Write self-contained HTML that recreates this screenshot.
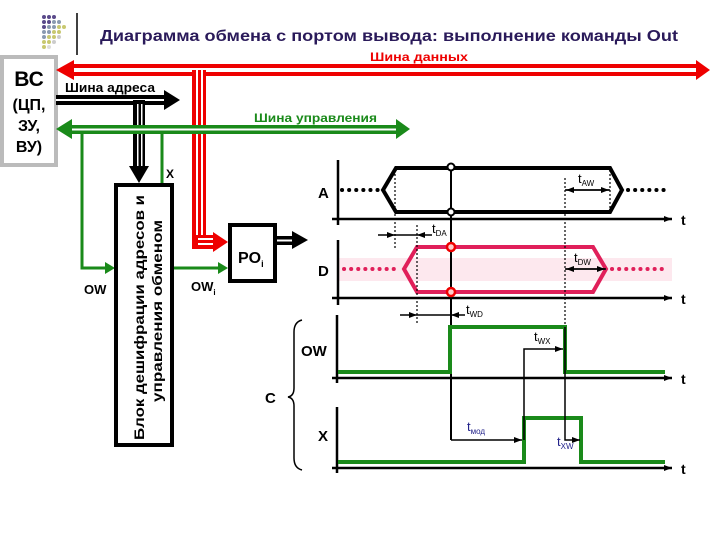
<!DOCTYPE html>
<html><head><meta charset="utf-8"><style>
body{margin:0;background:#fff;}
svg{display:block;font-family:"Liberation Sans","DejaVu Sans",sans-serif;font-weight:bold;}
</style></head><body>
<svg width="720" height="540" viewBox="0 0 720 540" xmlns="http://www.w3.org/2000/svg">
<defs>
<marker id="ab" markerWidth="8" markerHeight="6" refX="8" refY="3" orient="auto" markerUnits="userSpaceOnUse"><path d="M0,0L8,3L0,6z" fill="#000"/></marker>
</defs>
<!-- logo -->
<g>
<circle cx="44" cy="17" r="2" fill="#5a4a8a"/><circle cx="49" cy="17" r="2" fill="#5a4a8a"/><circle cx="54" cy="17" r="2" fill="#5a4a8a"/>
<circle cx="44" cy="22" r="2" fill="#5a4a8a"/><circle cx="49" cy="22" r="2" fill="#5a4a8a"/><circle cx="54" cy="22" r="2" fill="#8a9ab0"/><circle cx="59" cy="22" r="2" fill="#8a9ab0"/>
<circle cx="44" cy="27" r="2" fill="#5a4a8a"/><circle cx="49" cy="27" r="2" fill="#8a9ab0"/><circle cx="54" cy="27" r="2" fill="#8a9ab0"/><circle cx="59" cy="27" r="2" fill="#c8c870"/><circle cx="64" cy="27" r="2" fill="#c8c870"/>
<circle cx="44" cy="32" r="2" fill="#8a9ab0"/><circle cx="49" cy="32" r="2" fill="#8a9ab0"/><circle cx="54" cy="32" r="2" fill="#c8c870"/><circle cx="59" cy="32" r="2" fill="#c8c870"/>
<circle cx="44" cy="37" r="2" fill="#8a9ab0"/><circle cx="49" cy="37" r="2" fill="#c8c870"/><circle cx="54" cy="37" r="2" fill="#c8c870"/><circle cx="59" cy="37" r="2" fill="#ccc"/>
<circle cx="44" cy="42" r="2" fill="#c8c870"/><circle cx="49" cy="42" r="2" fill="#c8c870"/><circle cx="54" cy="42" r="2" fill="#ccc"/>
<circle cx="44" cy="47" r="2" fill="#c8c870"/><circle cx="49" cy="47" r="2" fill="#ddd"/>
</g>
<line x1="77" y1="13" x2="77" y2="55" stroke="#000" stroke-width="1.5"/>
<text x="100" y="41" font-size="16" fill="#2a1a5a" textLength="578" lengthAdjust="spacingAndGlyphs">Диаграмма обмена с портом вывода: выполнение команды Out</text>

<!-- BC box -->
<rect x="2" y="57" width="54" height="108" fill="#fff" stroke="#bbb" stroke-width="4"/>
<text x="29" y="86" font-size="21" text-anchor="middle">ВС</text>
<text x="29" y="110" font-size="16" text-anchor="middle">(ЦП,</text>
<text x="29" y="131" font-size="16" text-anchor="middle">ЗУ,</text>
<text x="29" y="152" font-size="16" text-anchor="middle">ВУ)</text>

<!-- red data bus -->
<rect x="72" y="64" width="628" height="12" fill="#e00"/>
<rect x="72" y="68" width="628" height="4" fill="#fff"/>
<path d="M56,70 L74,60 L74,80z" fill="#e00"/>
<path d="M710,70 L696,60 L696,80z" fill="#e00"/>
<text x="370" y="61" font-size="12" fill="#e00" textLength="98" lengthAdjust="spacingAndGlyphs">Шина данных</text>
<rect x="192" y="70" width="14" height="178" fill="#e00"/>
<rect x="196" y="70" width="2" height="174" fill="#fff"/><rect x="201" y="70" width="2" height="174" fill="#fff"/>
<rect x="192" y="235" width="24" height="14" fill="#e00"/>
<rect x="198" y="238" width="18" height="2" fill="#fff"/><rect x="198" y="243" width="18" height="2" fill="#fff"/>
<path d="M228,242 L213,232 L213,252z" fill="#e00"/>

<!-- address bus -->
<rect x="56" y="95" width="110" height="10" fill="#000"/>
<rect x="56" y="99" width="110" height="2" fill="#fff"/>
<path d="M180,100 L164,90 L164,110z" fill="#000"/>
<text x="65" y="92" font-size="13" textLength="90" lengthAdjust="spacingAndGlyphs">Шина адреса</text>
<rect x="133" y="100" width="12" height="70" fill="#000"/>
<rect x="137" y="104" width="1.5" height="66" fill="#fff"/><rect x="141" y="104" width="1.5" height="66" fill="#fff"/>
<path d="M139,183 L129,166 L149,166z" fill="#000"/>

<!-- control bus -->
<rect x="70" y="125" width="328" height="9" fill="#1a8a1a"/>
<rect x="70" y="128.5" width="328" height="2" fill="#fff"/>
<path d="M56,129 L72,119 L72,139z" fill="#1a8a1a"/>
<path d="M410,129 L396,119 L396,139z" fill="#1a8a1a"/>
<text x="254" y="122" font-size="12" fill="#1a8a1a" textLength="123" lengthAdjust="spacingAndGlyphs">Шина управления</text>
<polyline points="82,134 82,268 108,268" fill="none" stroke="#1a8a1a" stroke-width="3"/>
<path d="M115,268 L105,262 L105,274z" fill="#1a8a1a"/>
<line x1="162" y1="134" x2="162" y2="183" stroke="#1a8a1a" stroke-width="3"/>
<text x="166" y="178" font-size="12">X</text>
<line x1="174" y1="268" x2="222" y2="268" stroke="#1a8a1a" stroke-width="3"/>
<path d="M228,268 L218,262 L218,274z" fill="#1a8a1a"/>
<text x="84" y="294" font-size="13">OW</text>
<text x="191" y="291" font-size="13">OW<tspan font-size="8" dy="4">i</tspan></text>

<!-- block -->
<rect x="116" y="185" width="56" height="260" fill="#fff" stroke="#000" stroke-width="4"/>
<g transform="translate(144,440) rotate(-90)"><text x="0" y="0" font-size="14" textLength="245" lengthAdjust="spacingAndGlyphs">Блок дешифрации адресов и</text></g>
<g transform="translate(162,402) rotate(-90)"><text x="0" y="0" font-size="14" textLength="182" lengthAdjust="spacingAndGlyphs">управления обменом</text></g>

<!-- PO -->
<rect x="230" y="225" width="45" height="56" fill="#fff" stroke="#000" stroke-width="4"/>
<text x="238" y="263" font-size="16">PO<tspan font-size="9" dy="4">i</tspan></text>
<rect x="277" y="236" width="18" height="9" fill="#000"/><rect x="277" y="239.5" width="18" height="2" fill="#fff"/>
<path d="M308,240 L292,231 L292,249z" fill="#000"/>

<!-- timing A -->
<line x1="338" y1="160" x2="338" y2="225" stroke="#000" stroke-width="2.5"/>
<line x1="332" y1="219" x2="672" y2="219" stroke="#000" stroke-width="2.5" marker-end="url(#ab)"/>
<text x="681" y="225" font-size="14">t</text>
<text x="318" y="198" font-size="15">A</text>
<line x1="342" y1="190" x2="378" y2="190" stroke="#000" stroke-width="4" stroke-dasharray="0.1 7" stroke-linecap="round"/>
<line x1="628" y1="190" x2="665" y2="190" stroke="#000" stroke-width="4" stroke-dasharray="0.1 7" stroke-linecap="round"/>
<polygon points="383,190 396,168 610,168 622,190 610,212 396,212" fill="none" stroke="#000" stroke-width="4"/>

<!-- D -->
<rect x="338" y="258" width="334" height="23" fill="#fde8ee"/>
<line x1="338" y1="240" x2="338" y2="305" stroke="#000" stroke-width="2.5"/>
<line x1="332" y1="298" x2="672" y2="298" stroke="#000" stroke-width="2.5" marker-end="url(#ab)"/>
<text x="681" y="304" font-size="14">t</text>
<text x="318" y="276" font-size="15">D</text>
<line x1="344" y1="269" x2="400" y2="269" stroke="#e0205a" stroke-width="4" stroke-dasharray="0.1 7" stroke-linecap="round"/>
<line x1="612" y1="269" x2="668" y2="269" stroke="#e0205a" stroke-width="4" stroke-dasharray="0.1 7" stroke-linecap="round"/>
<polygon points="404,269 417,247 593,247 606,269 593,292 417,292" fill="none" stroke="#e0205a" stroke-width="4"/>

<!-- dotted refs -->
<g stroke="#000" stroke-width="1.2" stroke-dasharray="2 2">
<line x1="395" y1="170" x2="395" y2="248"/>
<line x1="417" y1="225" x2="417" y2="325"/>
<line x1="565" y1="178" x2="565" y2="328"/>
<line x1="610" y1="170" x2="610" y2="212"/>
</g>
<line x1="451" y1="167" x2="451" y2="440" stroke="#000" stroke-width="2"/>
<circle cx="451" cy="167" r="3.5" fill="#fff" stroke="#000" stroke-width="2"/>
<circle cx="451" cy="212" r="3.5" fill="#fff" stroke="#000" stroke-width="2"/>
<circle cx="451" cy="247" r="4" fill="#fcc" stroke="#e00" stroke-width="2.5"/>
<circle cx="451" cy="292" r="4" fill="#fcc" stroke="#e00" stroke-width="2.5"/>

<!-- time arrows -->
<g stroke="#000" stroke-width="1.5">
<line x1="378" y1="235" x2="395" y2="235" marker-end="url(#ab)"/>
<line x1="432" y1="235" x2="417" y2="235" marker-end="url(#ab)"/>
<line x1="395" y1="235" x2="417" y2="235"/>
<line x1="565" y1="190" x2="609" y2="190" marker-end="url(#ab)"/>
<line x1="610" y1="190" x2="566" y2="190" marker-end="url(#ab)"/>
<line x1="565" y1="269" x2="605" y2="269" marker-end="url(#ab)"/>
<line x1="606" y1="269" x2="566" y2="269" marker-end="url(#ab)"/>
<line x1="400" y1="315" x2="417" y2="315" marker-end="url(#ab)"/>
<line x1="465" y1="315" x2="451" y2="315" marker-end="url(#ab)"/>
<line x1="417" y1="315" x2="451" y2="315"/>
</g>
<g font-size="13">
<text x="578" y="183" style="font-weight:normal">t<tspan font-size="8" dy="3">AW</tspan></text>
<text x="432" y="233" style="font-weight:normal">t<tspan font-size="8" dy="3">DA</tspan></text>
<text x="574" y="262" style="font-weight:normal">t<tspan font-size="8" dy="3">DW</tspan></text>
<text x="466" y="314" style="font-weight:normal">t<tspan font-size="8" dy="3">WD</tspan></text>
<text x="534" y="341" style="font-weight:normal">t<tspan font-size="8" dy="3">WX</tspan></text>
<text x="467" y="431" fill="#22228a" style="font-weight:normal">t<tspan font-size="8" dy="3">мод</tspan></text>
<text x="557" y="446" fill="#22228a" style="font-weight:normal">t<tspan font-size="8" dy="3">XW</tspan></text>
</g>

<!-- OW -->
<line x1="337" y1="315" x2="337" y2="383" stroke="#000" stroke-width="2.5"/>
<line x1="332" y1="378" x2="672" y2="378" stroke="#000" stroke-width="2.5" marker-end="url(#ab)"/>
<text x="681" y="384" font-size="14">t</text>
<text x="301" y="356" font-size="15">OW</text>
<polyline points="338,372 450,372 450,327 565,327 565,372 665,372" fill="none" stroke="#1a8a1a" stroke-width="4"/>

<!-- X -->
<line x1="337" y1="407" x2="337" y2="473" stroke="#000" stroke-width="2.5"/>
<line x1="332" y1="468" x2="672" y2="468" stroke="#000" stroke-width="2.5" marker-end="url(#ab)"/>
<text x="681" y="474" font-size="14">t</text>
<text x="318" y="441" font-size="15">X</text>
<polyline points="338,462 524,462 524,418 581,418 581,462 665,462" fill="none" stroke="#1a8a1a" stroke-width="4"/>

<g stroke="#000" stroke-width="1.5" fill="none">
<line x1="451" y1="440" x2="522" y2="440" marker-end="url(#ab)"/>
<polyline points="524,440 524,349 563,349" marker-end="url(#ab)"/>
<polyline points="565,327 565,440 580,440" marker-end="url(#ab)"/>
</g>

<!-- brace -->
<path d="M302,320 Q294,322 294,332 L294,388 Q294,396 288,397 Q294,398 294,406 L294,458 Q294,468 302,470" fill="none" stroke="#000" stroke-width="1.5"/>
<text x="265" y="403" font-size="15">C</text>
</svg>
</body></html>
